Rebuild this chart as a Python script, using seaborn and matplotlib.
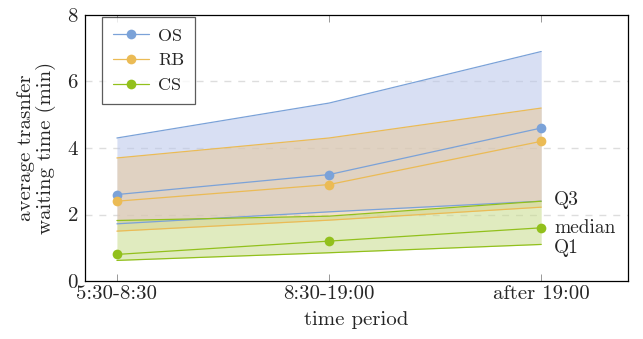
import numpy as np
import pandas as pd
import matplotlib
matplotlib.use("Agg")
import matplotlib.pyplot as plt
import seaborn as sns

periods = ["5:30-8:30", "8:30-19:00", "after 19:00"]
groups = ["OS", "RB", "CS"]
os_q1 = [1.72, 2.08, 2.40]
os_med = [2.6, 3.2, 4.6]
os_q3 = [4.3, 5.35, 6.9]
rb_q1 = [1.5, 1.83, 2.22]
rb_med = [2.4, 2.9, 4.2]
rb_q3 = [3.7, 4.3, 5.2]
cs_q1 = [0.62, 0.85, 1.1]
cs_med = [0.8, 1.2, 1.6]
cs_q3 = [1.82, 1.95, 2.4]

colors = {"OS": "#7ba2d8", "RB": "#ebbb55", "CS": "#92c01c"}
fills = {"OS": "#b9c6ea", "RB": "#e8c89a", "CS": "#c8dc8c"}

rows = []
for g, q1, md, q3 in [("OS", os_q1, os_med, os_q3), ("RB", rb_q1, rb_med, rb_q3), ("CS", cs_q1, cs_med, cs_q3)]:
    for i, p in enumerate(periods):
        rows.append(dict(group=g, period=p, x=i, q1=q1[i], median=md[i], q3=q3[i]))
df = pd.DataFrame(rows)

sns.set_theme(style="ticks")
plt.rcParams["font.family"] = ["cmr10", "DejaVu Serif"]
plt.rcParams["axes.formatter.use_mathtext"] = True
plt.rcParams["mathtext.fontset"] = "cm"

fig = plt.figure(figsize=(6.43, 3.39), dpi=100)
ax = fig.add_axes([0.132, 0.171, 0.845, 0.785])

for g in groups:
    d = df[df.group == g]
    ax.fill_between(d.x, d.q1, d.q3, color=fills[g], alpha=0.55, linewidth=0, zorder=1)
for g in groups:
    d = df[df.group == g]
    sns.lineplot(data=d, x="x", y="q1", ax=ax, color=colors[g], linewidth=0.9, zorder=2, legend=False)
    sns.lineplot(data=d, x="x", y="q3", ax=ax, color=colors[g], linewidth=0.9, zorder=2, legend=False)
for g in groups:
    d = df[df.group == g]
    sns.lineplot(data=d, x="x", y="median", ax=ax, color=colors[g], linewidth=0.9,
                 marker="o", markersize=7, markeredgewidth=0, label=g, zorder=3)

ax.set_xlim(-0.151, 2.41)
ax.set_ylim(0, 8)
ax.set_xticks(range(len(periods)))
ax.set_xticklabels(periods, fontsize=15)
ax.set_yticks([0, 2, 4, 6, 8])
ax.set_yticklabels(["0", "2", "4", "6", "8"], fontsize=15)
for y in [2, 4, 6]:
    ax.axhline(y, color="#dddddd", linestyle=(0, (5, 5)), linewidth=1.0, zorder=0)
ax.tick_params(axis="both", direction="in", length=5, width=0.6, color="#888888",
               top=True, right=False, pad=3)
ax.tick_params(axis="y", length=0, pad=5)
ax.set_xlabel("time period", fontsize=15, labelpad=6)
ax.set_ylabel("average trasnfer\nwaiting time (min)", fontsize=15, labelpad=8, linespacing=1.1)
for s in ax.spines.values():
    s.set_linewidth(0.9)
    s.set_color("black")

cs = df[df.group == "CS"].iloc[-1]
ax.text(2.06, cs.q3 + 0.03, "Q3", fontsize=14, va="center", ha="left")
ax.text(2.06, cs["median"], "median", fontsize=14, va="center", ha="left")
ax.text(2.06, cs.q1 - 0.12, "Q1", fontsize=14, va="center", ha="left")

leg = ax.legend(loc="upper left", bbox_to_anchor=(0.032, 0.992), fontsize=13, frameon=True,
                fancybox=False, edgecolor="#333333", handlelength=2.0, borderpad=0.6,
                labelspacing=0.5, handletextpad=0.5, borderaxespad=0.0)
leg.get_frame().set_linewidth(0.9)

fig.savefig("out.png", dpi=100)
